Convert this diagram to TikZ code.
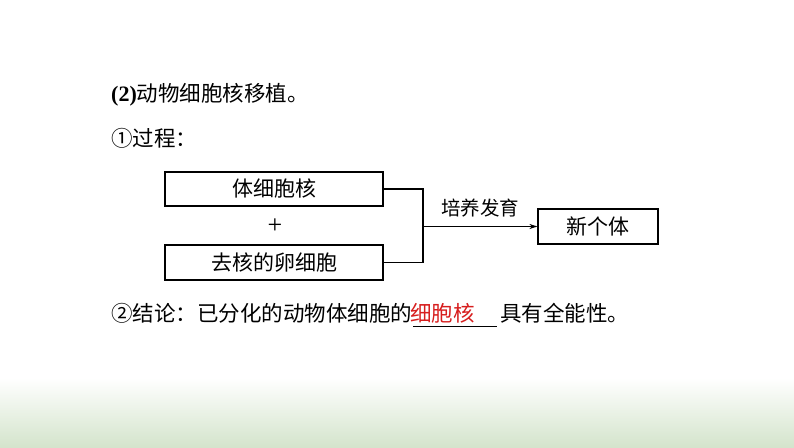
\documentclass[tikz,border=0pt]{standalone}
\usepackage{fontspec}
\setmainfont{Liberation Serif}
\newfontfamily\cjk{Noto Sans CJK SC}
\usetikzlibrary{arrows.meta}
\definecolor{bggreen}{RGB}{212,228,204}
\definecolor{ansred}{RGB}{215,30,30}
\tikzset{
  txt/.style={inner sep=0pt, anchor=west, font=\cjk\fontsize{21.5}{22}\selectfont},
  boxnode/.style={draw, line width=1.2pt, inner sep=0pt, font=\cjk\fontsize{21}{21}\selectfont},
  link/.style={line width=1.2pt},
  lbl/.style={inner sep=0pt, font=\cjk\fontsize{19.5}{20}\selectfont}
}
\begin{document}
\begin{tikzpicture}[x=1pt,y=-1pt]
\useasboundingbox (0,0) rectangle (794,447);
\fill[white] (0,0) rectangle (794,447);
\shade[top color=white, bottom color=bggreen] (0,378) rectangle (794,447);
% headings
\node[txt] (h1) at (111,95) {{\rmfamily\bfseries\fontsize{22}{22}\selectfont (2)}动物细胞核移植。};
\node[txt] (h2) at (111,138) {①过程：};
% boxes
\node[boxnode, minimum width=218pt, minimum height=34pt] (b1) at (274,189) {体细胞核};
\node[inner sep=0pt, font=\rmfamily\fontsize{26}{26}\selectfont] (plus) at (275,226) {+};
\node[boxnode, minimum width=218pt, minimum height=35pt] (b2) at (274,262.5) {去核的卵细胞};
\node[boxnode, minimum width=120pt, minimum height=35pt] (b3) at (598,226.5) {新个体};
\coordinate (j) at (423,226.5);
\draw[link] (b1.east) -| (j) |- (b2.east);
\draw[link, -{Stealth[length=8pt,width=5pt]}] (j) -- node[lbl, above=9pt] (lab) {培养发育} (b3.west);
% conclusion
\node[txt] (c1) at (111,313) {②结论：已分化的动物体细胞的};
\node[txt, text=ansred] (ans) at (410,313) {细胞核};
\coordinate (u1) at (413,326);
\coordinate (u2) at (497,326);
\draw[line width=1pt] (u1) -- (u2);
\node[txt] (c2) at (500,313) {具有全能性。};
\end{tikzpicture}
\end{document}
